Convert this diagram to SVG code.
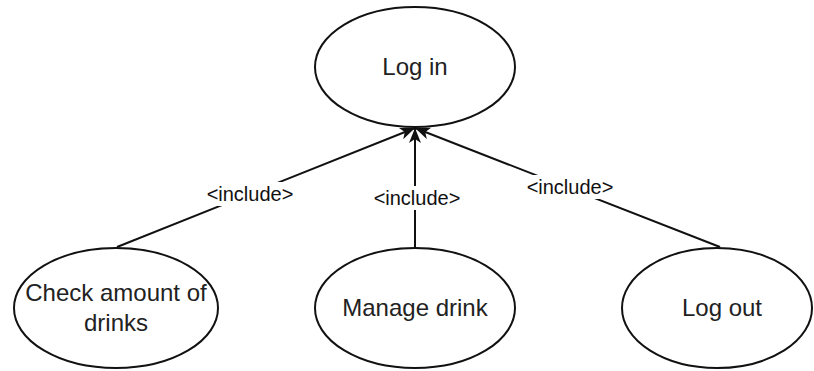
<svg xmlns="http://www.w3.org/2000/svg" width="814" height="371" viewBox="0 0 814 371">
  <style>
    .node { fill: #ffffff; stroke: #111111; stroke-width: 2; }
    .label { font-family: "Liberation Sans", Arial, sans-serif; font-size: 24px; fill: #222222; text-anchor: middle; }
    .edge { stroke: #111111; stroke-width: 2; fill: none; }
    .elabel { font-family: "Liberation Sans", Arial, sans-serif; font-size: 20px; fill: #111111; text-anchor: middle; }
    .ebg { fill: #ffffff; }
  </style>
  <defs>
    <marker id="arrow" markerUnits="userSpaceOnUse" markerWidth="18" markerHeight="14" refX="15" refY="6" orient="auto">
      <path d="M0,0 L15,6 L0,12 L4,6 Z" fill="#111111"/>
    </marker>
  </defs>
  <rect width="814" height="371" fill="#ffffff"/>
  <g id="connectors">
    <line class="edge" x1="117" y1="247" x2="415" y2="128" marker-end="url(#arrow)"/>
    <line class="edge" x1="415" y1="248" x2="415" y2="128" marker-end="url(#arrow)"/>
    <line class="edge" x1="720" y1="247" x2="415" y2="128" marker-end="url(#arrow)"/>
    <rect class="ebg" x="203" y="182" width="94" height="24"/>
    <text class="elabel" x="250" y="201">&lt;include&gt;</text>
    <rect class="ebg" x="370" y="186" width="94" height="24"/>
    <text class="elabel" x="417" y="205">&lt;include&gt;</text>
    <rect class="ebg" x="523" y="175" width="94" height="24"/>
    <text class="elabel" x="570" y="194">&lt;include&gt;</text>
  </g>
  <g id="login">
    <ellipse class="node" cx="415" cy="67" rx="100" ry="60"/>
    <text class="label" x="415" y="75">Log in</text>
  </g>
  <g id="check">
    <ellipse class="node" cx="116" cy="308" rx="102" ry="60"/>
    <text class="label" x="116" y="301">Check amount of</text>
    <text class="label" x="116" y="331">drinks</text>
  </g>
  <g id="manage">
    <ellipse class="node" cx="415" cy="308" rx="100" ry="60"/>
    <text class="label" x="415" y="316">Manage drink</text>
  </g>
  <g id="logout">
    <ellipse class="node" cx="717" cy="308" rx="95" ry="60"/>
    <text class="label" x="722" y="316">Log out</text>
  </g>
</svg>
